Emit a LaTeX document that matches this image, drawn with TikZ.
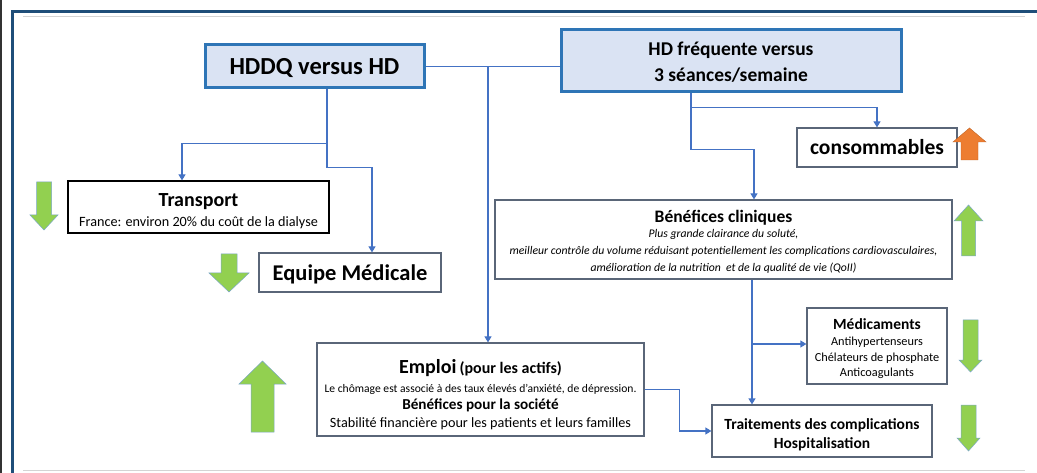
\documentclass[tikz,border=0pt]{standalone}
\usepackage{fontspec}
\setmainfont{Carlito}
\usetikzlibrary{arrows.meta}

\definecolor{mainfill}{HTML}{DAE3F3}
\definecolor{mainline}{HTML}{2E75B6}
\definecolor{boxline}{HTML}{5A6678}
\definecolor{connblue}{HTML}{4472C4}
\definecolor{framebl}{HTML}{1F4E79}
\definecolor{rulegray}{HTML}{D4D4D4}
\definecolor{upgreen}{HTML}{92D050}
\definecolor{greenedge}{HTML}{7AA6C8}
\definecolor{uporange}{HTML}{ED7D31}

\newcommand\fs[2]{\fontsize{#1}{#2}\selectfont}
% invisible strut that sets the height of a box's first line
\newcommand\boxstrut[1]{\rule{0pt}{#1pt}}

% block arrow: #1 centre x, #2 tail y, #3 tip y, #4 head half width,
% #5 shaft half width, #6 head length, #7 style
\newcommand\blockarrow[7]{%
  \pgfmathsetmacro\headbase{#3+(#2>#3?1:-1)*#6}%
  \filldraw[#7] (#1-#5,#2) -- (#1+#5,#2) -- (#1+#5,\headbase) -- (#1+#4,\headbase)
    -- (#1,#3) -- (#1-#4,\headbase) -- (#1-#5,\headbase) -- cycle;}

\tikzset{
  mainbox/.style={draw=mainline, fill=mainfill, line width=3pt, inner sep=0pt, align=center},
  plainbox/.style={draw=boxline, fill=white, line width=1.2pt, inner sep=0pt, align=center},
  conn/.style={draw=connblue, line width=1.2pt},
  arr/.style={conn, -{Triangle[length=6pt,width=7pt]}},
  greenarrow/.style={fill=upgreen, draw=greenedge, line width=0.5pt},
  orangearrow/.style={fill=uporange, draw=uporange!80!black, line width=0.4pt},
}

\begin{document}
% lines inside the boxes keep exactly their baseline distance
\lineskiplimit=-100pt
\lineskip=0pt
\begin{tikzpicture}[x=1pt, y=-1pt]
\useasboundingbox (0,0) rectangle (1037,473);

% page frame
\draw[line width=1.6pt, draw=black!80] (0.8,0) -- (0.8,473);
\draw[line width=2.6pt, draw=framebl] (1037,11.3) -- (12.3,11.3) -- (12.3,473);
\draw[line width=1.2pt, draw=rulegray] (23,16.5) -- (1025,16.5);
\draw[line width=1.2pt, draw=rulegray] (23,470.5) -- (1025,470.5);

% boxes
\node[mainbox, minimum width=219, minimum height=43, font=\fs{24.5}{28}\bfseries] (hddq) at (314.5,66.5)
  {\boxstrut{19}HDDQ versus HD};
\node[mainbox, minimum width=340, minimum height=62, font=\fs{19.5}{26}\bfseries] (hdf) at (731,61)
  {\boxstrut{16.5}HD fréquente versus\\3 séances/semaine};
\node[plainbox, minimum width=160, minimum height=39, font=\fs{21.5}{24}\bfseries] (cons) at (877,147.5)
  {consommables};
\node[plainbox, draw=black, minimum width=261, minimum height=52, font=\fs{14.2}{20.5}] (transport) at (198.5,207)
  {\boxstrut{21}{\fs{20}{20.5}\bfseries Transport}\\France: environ 20\% du coût de la dialyse};
\node[plainbox, minimum width=182, minimum height=39, font=\fs{22.5}{25}\bfseries] (equipe) at (350,272.5)
  {\boxstrut{20.5}Equipe Médicale};
\node[plainbox, minimum width=457, minimum height=79, font=\fs{11.7}{16.8}\itshape] (benef) at (723.5,239.5)
  {\boxstrut{16.8}{\fs{17.5}{16.8}\upshape\bfseries Bénéfices cliniques}\\[-2pt]
   Plus grande clairance du soluté,\\
   meilleur contrôle du volume réduisant potentiellement les complications cardiovasculaires,\\
   amélioration de la nutrition\ \ et de la qualité de vie (QoII)};
\node[plainbox, minimum width=327, minimum height=93, font=\fs{14.2}{18}] (emploi) at (480.5,389.5)
  {\boxstrut{25}{\fs{20}{18}\bfseries Emploi} {\fs{16}{18}\bfseries (pour les actifs)}\\[0.5pt]
   {\fs{11.6}{18}Le chômage est associé à des taux élevés d’anxiété, de dépression.}\\[-1pt]
   {\fs{15.2}{18}\bfseries Bénéfices pour la société}\\[0.6pt]
   Stabilité financière pour les patients et leurs familles};
\node[plainbox, minimum width=140, minimum height=76, font=\fs{12.3}{15.5}] (medic) at (877,346)
  {\boxstrut{17}{\fs{15.5}{15.5}\bfseries Médicaments}\\[0.5pt]
   Antihypertenseurs\\
   Chélateurs de phosphate\\
   Anticoagulants};
\node[plainbox, minimum width=220, minimum height=52, font=\fs{15.5}{19}\bfseries] (trait) at (822,431)
  {\boxstrut{19}Traitements des complications\\Hospitalisation};

% connectors
\coordinate (medin) at ([yshift=2pt]medic.west);
\draw[conn] (hddq.east) -- (hddq.east -| hdf.west);
\draw[arr] ([xshift=7.5]emploi.north |- hddq.east) -- ([xshift=7.5]emploi.north);
\draw[arr] ([xshift=12.5]hddq.south) -- ++(0,54) -| ([xshift=-16.5]transport.north);
\draw[arr] ([xshift=12.5]hddq.south) -- ++(0,78) -| ([xshift=22]equipe.north);
\draw[arr] ([xshift=-40]hdf.south) -- ++(0,14) -| (cons.north);
\draw[arr] ([xshift=-40]hdf.south) -- ++(0,56) -| ([xshift=30.5]benef.north);
\draw[arr] ([xshift=28.5]benef.south) -- ([xshift=28.5]benef.south |- trait.north);
\draw[arr] ([xshift=28.5]benef.south |- medin) -- (medin);
\draw[arr] (emploi.east) -- ++(35,0) |- (trait.west);

% trend arrows
\blockarrow{44}{182}{230}{14}{7.5}{15}{greenarrow}
\blockarrow{229}{254}{292}{20}{8}{19}{greenarrow}
\blockarrow{262.5}{432}{361}{23.5}{11.5}{23}{greenarrow}
\blockarrow{969.5}{160}{128}{16.5}{8.5}{14}{orangearrow}
\blockarrow{968.5}{256}{205}{14.5}{7}{16}{greenarrow}
\blockarrow{970.5}{320}{372}{11.5}{7.5}{12}{greenarrow}
\blockarrow{968.5}{405}{451}{11.5}{7.5}{13}{greenarrow}
\end{tikzpicture}
\end{document}
